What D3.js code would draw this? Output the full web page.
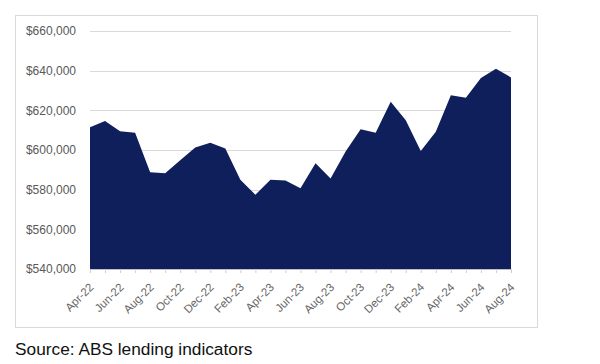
<!DOCTYPE html>
<html>
<head>
<meta charset="utf-8">
<script src="https://cdn.jsdelivr.net/npm/d3@7"></script>
<style>
  body { margin: 0; background: #fff; }
  svg { display: block; font-family: "Liberation Sans", Arial, sans-serif; }
</style>
</head>
<body>
<svg id="chart" width="600" height="364"></svg>
<script>
// monthly median loan size, Apr-22 .. Aug-24
var months = ["Apr-22","May-22","Jun-22","Jul-22","Aug-22","Sep-22","Oct-22","Nov-22","Dec-22",
              "Jan-23","Feb-23","Mar-23","Apr-23","May-23","Jun-23","Jul-23","Aug-23","Sep-23",
              "Oct-23","Nov-23","Dec-23","Jan-24","Feb-24","Mar-24","Apr-24","May-24","Jun-24",
              "Jul-24","Aug-24"];
var values = [611500, 614600, 609400, 608700, 588800, 588300, 594800, 601300, 603700,
              600800, 585000, 577400, 585000, 584600, 580700, 593300, 585600, 599200,
              610400, 608700, 624300, 615000, 599500, 609200, 627600, 626300, 636300,
              641000, 636600];
var yTicks = [540000, 560000, 580000, 600000, 620000, 640000, 660000];
var source = "Source: ABS lending indicators";

var svg = d3.select("#chart");
var margin = {top: 31, right: 89, bottom: 95, left: 90},
    width = 600 - margin.left - margin.right,
    height = 364 - margin.top - margin.bottom;

// outer frame
svg.append("rect")
    .attr("x", 15.5).attr("y", 15.5)
    .attr("width", 522).attr("height", 312)
    .attr("fill", "none")
    .attr("stroke", "#d9d9d9")
    .attr("stroke-width", 1);

var g = svg.append("g").attr("transform", "translate(" + margin.left + "," + margin.top + ")");

var x = d3.scalePoint().domain(months).range([0, width]);
var y = d3.scaleLinear().domain([540000, 660000]).range([height, 0]);

// gridlines
g.append("g")
  .selectAll("line")
  .data(yTicks.slice(1))
  .enter().append("line")
    .attr("x1", 0).attr("x2", width)
    .attr("y1", function(d) { return Math.round(y(d)) + 0.5; })
    .attr("y2", function(d) { return Math.round(y(d)) + 0.5; })
    .attr("stroke", "#d9d9d9")
    .attr("stroke-width", 1);

var area = d3.area()
    .x(function(d, i) { return x(months[i]); })
    .y0(height)
    .y1(function(d) { return y(d); });

g.append("path")
    .datum(values)
    .attr("d", area)
    .attr("fill", "#0e1f5b");

// y axis labels
var yAxis = d3.axisLeft(y)
    .tickValues(yTicks)
    .tickSize(0)
    .tickPadding(14)
    .tickFormat(function(d) { return "$" + d3.format(",")(d); });

var ya = g.append("g").call(yAxis);
ya.select(".domain").remove();
ya.selectAll("text")
    .attr("fill", "#595959")
    .style("font-size", "12px");

// x axis
var xAxis = d3.axisBottom(x)
    .tickSize(4)
    .tickFormat(function(d, i) { return i % 2 === 0 ? d : ""; });

var xa = g.append("g")
    .attr("transform", "translate(0," + height + ")")
    .call(xAxis);
xa.select(".domain").attr("stroke", "#bfbfbf");
xa.selectAll(".tick line").attr("stroke", "#d0d0d0");
xa.selectAll("text")
    .attr("fill", "#666")
    .style("font-size", "11.5px")
    .attr("text-anchor", "end")
    .attr("x", 0)
    .attr("y", 0)
    .attr("dy", "0.35em")
    .attr("transform", "translate(1,16) rotate(-45)");

// source note
svg.append("text")
    .attr("x", 15)
    .attr("y", 355)
    .attr("fill", "#111")
    .style("font-size", "17.3px")
    .text(source);
</script>
</body>
</html>
